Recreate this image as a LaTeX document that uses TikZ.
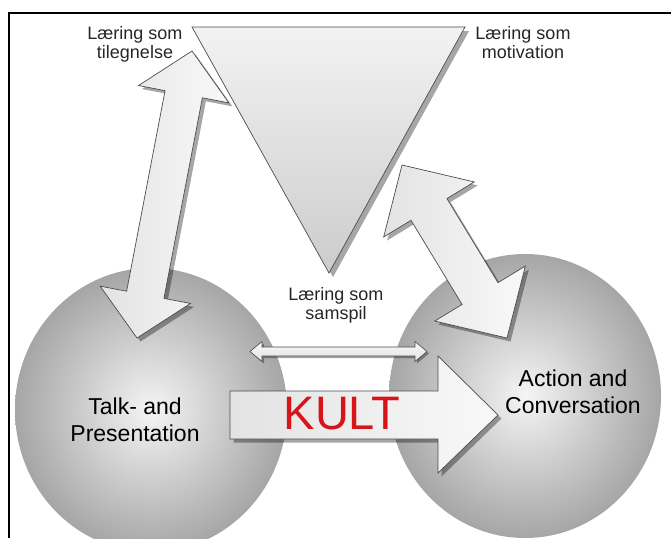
\documentclass[tikz,border=0pt]{standalone}
\usepackage{fontspec}
\setmainfont{Liberation Sans}
\usetikzlibrary{calc,shapes.geometric,shadows}

\definecolor{kultred}{RGB}{215,20,25}

\tikzset{
  blob/.style={ellipse, draw=none, shading=radial, inner color=gray!8,
    outer color=gray!70, minimum width=272pt, minimum height=284pt, inner sep=0pt},
  fatarrow/.style={draw=black!70, line width=0.7pt, left color=gray!22, right color=gray!5,
    drop shadow={shadow xshift=3.5pt, shadow yshift=-3.5pt, fill=black, opacity=0.35}},
  thinarrow/.style={draw=black!70, line width=0.6pt, top color=gray!5, bottom color=gray!22,
    drop shadow={shadow xshift=2pt, shadow yshift=-2pt, fill=black, opacity=0.35}},
  smalltext/.style={align=center, text=black!85, font=\fontsize{18}{19}\selectfont},
  balltext/.style={align=center, text=black, font=\fontsize{23}{27}\selectfont},
}

% fat double arrow between two tips:
% #2,#3 tips, #4 half shaft, #5 half head, #6 head length
\newcommand{\twoway}[6][]{%
  \draw[#1] (#2)
    -- ($(#2)!#6!(#3)!#5!90:(#3)$)
    -- ($(#2)!#6!(#3)!#4!90:(#3)$)
    -- ($(#3)!#6!(#2)!#4!-90:(#2)$)
    -- ($(#3)!#6!(#2)!#5!-90:(#2)$)
    -- (#3)
    -- ($(#3)!#6!(#2)!#5!90:(#2)$)
    -- ($(#3)!#6!(#2)!#4!90:(#2)$)
    -- ($(#2)!#6!(#3)!#4!-90:(#3)$)
    -- ($(#2)!#6!(#3)!#5!-90:(#3)$)
    -- cycle;}

\begin{document}
\begin{tikzpicture}[x=1pt, y=-1pt]
  \useasboundingbox (0,0) rectangle (671,538);
  \clip (0,0) rectangle (671,538);

  % outer frame
  \draw[line width=1.2pt] (9,538) -- (9,13) -- (671,13);

  % the two balls
  \node[blob] (talk) at (151,410) {};
  \node[blob] (action) at (525,396) {};

  % triangle on top
  \draw[draw=black!70, line width=0.7pt, top color=gray!10, bottom color=gray!40,
    drop shadow={shadow xshift=4pt, shadow yshift=-4pt, fill=black, opacity=0.35}]
    (192,27) -- (465,27) -- (329,273) -- cycle;

  % left double arrow
  \coordinate (tilA) at (192,51);
  \coordinate (tilB) at (137,338);
  \twoway[fatarrow]{tilA}{tilB}{19pt}{46pt}{44pt}

  % right double arrow
  \coordinate (motA) at (402,165);
  \coordinate (motB) at (507,338);
  \twoway[fatarrow]{motA}{motB}{21pt}{53pt}{52pt}

  % thin arrow between the balls
  \coordinate (samA) at (250,351.5);
  \coordinate (samB) at (427,351.5);
  \twoway[thinarrow]{samA}{samB}{4.5pt}{10pt}{12pt}

  % KULT arrow
  \draw[fatarrow] (230,391) -- (438,391) -- (438,356) -- (498,415)
    -- (438,473) -- (438,439) -- (230,439) -- cycle;
  \node[text=kultred, font=\fontsize{47}{47}\selectfont] (kult) at (342,414) {KULT};

  % texts
  \node[smalltext] (tileg) at (135,44) {Læring som\\tilegnelse};
  \node[smalltext] (motiv) at (523,43) {Læring som\\motivation};
  \node[smalltext] (samsp) at (336,305) {Læring som\\samspil};
  \node[balltext] (talktext) at (135,420) {Talk- and\\Presentation};
  \node[balltext] (actiontext) at (573,392) {Action and\\Conversation};
\end{tikzpicture}
\end{document}
